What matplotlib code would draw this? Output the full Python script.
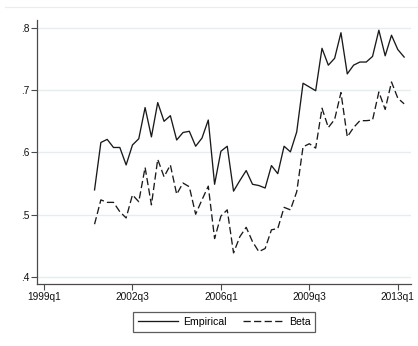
import matplotlib
matplotlib.use("Agg")
import matplotlib.pyplot as plt
from matplotlib.lines import Line2D

# Quarterly series, 2001q1 .. 2013q2
start_year, start_quarter = 2001, 1
empirical = [0.540, 0.616, 0.621, 0.608, 0.608, 0.580, 0.612, 0.622, 0.672, 0.625,
             0.680, 0.650, 0.659, 0.620, 0.632, 0.634, 0.610, 0.623, 0.652, 0.549,
             0.602, 0.610, 0.538, 0.555, 0.571, 0.549, 0.547, 0.543, 0.579, 0.566,
             0.610, 0.601, 0.633, 0.711, 0.705, 0.699, 0.767, 0.740, 0.751, 0.792,
             0.726, 0.740, 0.745, 0.745, 0.754, 0.796, 0.755, 0.788, 0.765, 0.753]
beta = [0.485, 0.524, 0.520, 0.520, 0.505, 0.495, 0.532, 0.521, 0.576, 0.516,
        0.589, 0.561, 0.580, 0.533, 0.551, 0.545, 0.501, 0.524, 0.546, 0.462,
        0.498, 0.508, 0.439, 0.465, 0.480, 0.457, 0.441, 0.446, 0.476, 0.478,
        0.512, 0.508, 0.537, 0.609, 0.614, 0.607, 0.671, 0.640, 0.653, 0.696,
        0.625, 0.640, 0.651, 0.651, 0.652, 0.697, 0.669, 0.713, 0.687, 0.678]
x_tick_labels = ["1999q1", "2002q3", "2006q1", "2009q3", "2013q1"]
y_ticks = [0.4, 0.5, 0.6, 0.7, 0.8]
y_tick_labels = [".4", ".5", ".6", ".7", ".8"]


def tq(label_or_year, quarter=None):
    """Quarterly date number (quarters since 1960q1)."""
    if quarter is None:
        y, q = label_or_year.split("q")
        return (int(y) - 1960) * 4 + int(q) - 1
    return (label_or_year - 1960) * 4 + quarter - 1


t0 = tq(start_year, start_quarter)
quarters = [t0 + i for i in range(len(empirical))]

plt.rcParams["font.family"] = ["Liberation Sans", "DejaVu Sans"]

fig = plt.figure(figsize=(4.18, 3.46), dpi=100)
fig.patch.set_facecolor("white")
ax = fig.add_axes([0.0897, 0.179, 0.8933, 0.763])

ax.plot(quarters, empirical, color="#1a1a1a", lw=0.95, label="Empirical")
ax.plot(quarters, beta, color="#1a1a1a", lw=0.95, dashes=(5.5, 2.5), label="Beta")

ax.set_xlim(tq("1999q1") - 1.03, tq("2013q1") + 2.07)
ax.set_ylim(0.389, 0.8123)

ax.set_xticks([tq(s) for s in x_tick_labels])
ax.set_xticklabels(x_tick_labels)
ax.set_yticks(y_ticks)
ax.set_yticklabels(y_tick_labels)

ax.yaxis.grid(True, color="#e4eef0", lw=1.0)
ax.set_axisbelow(True)

for side in ("top", "right"):
    ax.spines[side].set_visible(False)
for side in ("left", "bottom"):
    ax.spines[side].set_color("#4a4a4a")
    ax.spines[side].set_linewidth(0.9)

ax.tick_params(axis="both", direction="out", length=4, width=0.8, color="#4a4a4a",
               labelsize=7.3, labelcolor="#111111", pad=2)

leg = fig.legend(loc="center", bbox_to_anchor=(224 / 418, 1 - 322 / 346), ncol=2,
                 frameon=True, fancybox=False, fontsize=7.6, handlelength=3.8,
                 handletextpad=0.5, columnspacing=1.6, borderpad=0.45,
                 edgecolor="#333333", borderaxespad=0)
leg.get_frame().set_linewidth(0.9)
for h in leg.get_lines():
    h.set_linewidth(0.95)

# faint top border of the graph region
fig.add_artist(Line2D([5 / 418, 1.0], [1 - 7 / 346, 1 - 7 / 346],
                      color="#ececec", lw=0.8, transform=fig.transFigure))

fig.savefig("out.png", dpi=100, facecolor="white")
